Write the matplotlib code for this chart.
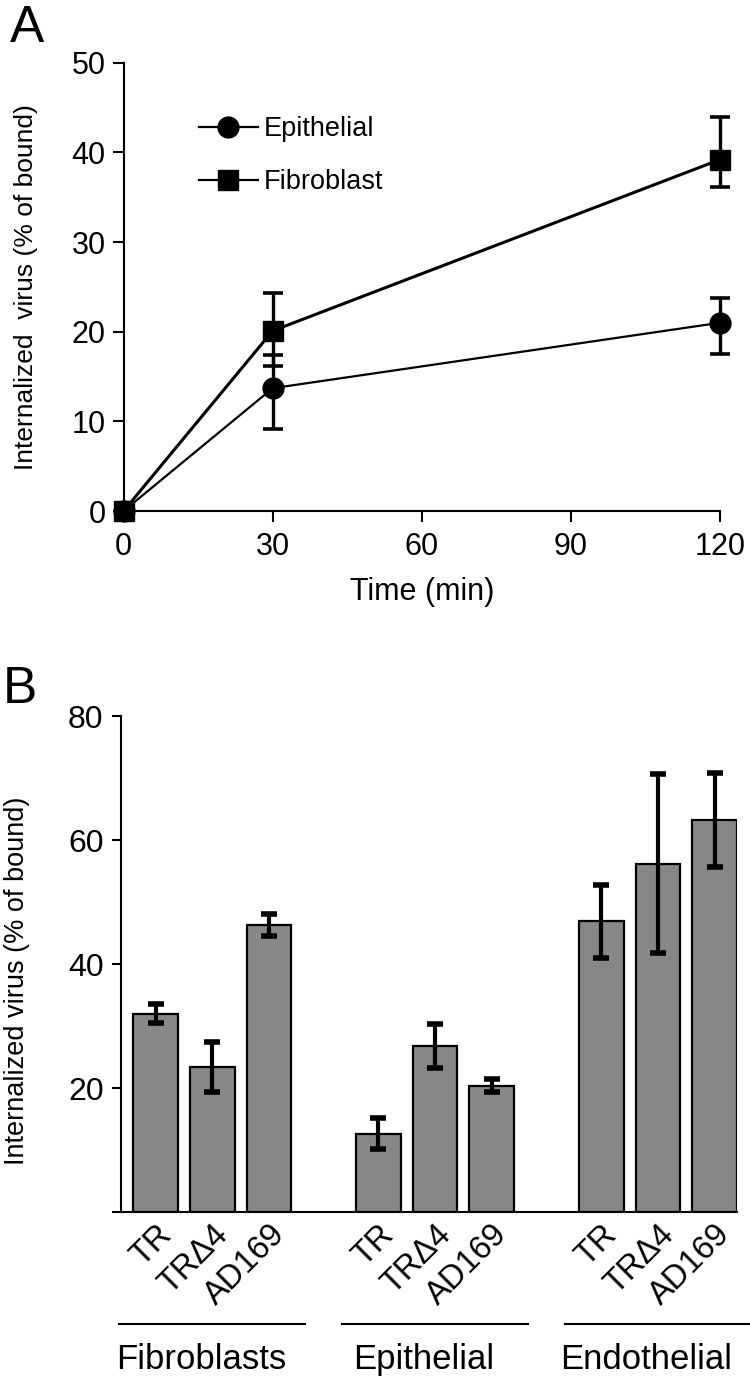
import matplotlib
matplotlib.use('Agg')
import matplotlib.pyplot as plt
from matplotlib.lines import Line2D

plt.rcParams['font.family'] = ['Liberation Sans', 'DejaVu Sans']

# panel A data
time_min = [0, 30, 120]
epi_val = [0, 13.7, 21.0]
epi_lo = [0, 4.6, 3.5]
epi_hi = [0, 3.7, 2.8]
fib_val = [0, 20.1, 39.2]
fib_lo = [0, 3.9, 3.1]
fib_hi = [0, 4.2, 4.7]

# panel B data
groups = ['Fibroblasts', 'Epithelial', 'Endothelial']
strains = ['TR', 'TR\u03944', 'AD169']
internal = [[32.0, 23.4, 46.3],
            [12.6, 26.8, 20.4],
            [46.9, 56.2, 63.2]]
internal_err = [[1.5, 4.0, 1.8],
                [2.5, 3.5, 1.0],
                [5.9, 14.5, 7.6]]

fig = plt.figure(figsize=(7.5, 13.88), dpi=100)

# ---- A ----
axA = fig.add_axes([0.1647, 0.6318, 0.7953, 0.3230])
axA.errorbar(time_min, fib_val, yerr=[fib_lo, fib_hi], color='black', lw=2.2,
             marker='s', ms=14, elinewidth=2.4, capsize=7, capthick=2.6,
             clip_on=False, zorder=3)
axA.errorbar(time_min, epi_val, yerr=[epi_lo, epi_hi], color='black', lw=1.6,
             marker='o', ms=15, elinewidth=2.4, capsize=7, capthick=2.6,
             clip_on=False, zorder=3)
axA.set_xlim(0, 120)
axA.set_ylim(0, 50)
axA.set_xticks([0, 30, 60, 90, 120])
axA.set_yticks([0, 10, 20, 30, 40, 50])
axA.spines['top'].set_visible(False)
axA.spines['right'].set_visible(False)
for s in ['left', 'bottom']:
    axA.spines[s].set_linewidth(1.5)
axA.tick_params(labelsize=22, width=1.5, length=8)
axA.tick_params(axis='x', pad=7)
axA.tick_params(axis='y', pad=5)
axA.set_xlabel('Time (min)', fontsize=22, labelpad=11)
axA.set_ylabel('Internalized  virus (% of bound)', fontsize=19)
axA.yaxis.set_label_coords(-0.144, 0.5)
leg_h = [Line2D([], [], color='black', lw=1.6, marker='o', ms=15),
         Line2D([], [], color='black', lw=1.6, marker='s', ms=14)]
axA.legend(leg_h, ['Epithelial', 'Fibroblast'], loc='upper left', bbox_to_anchor=(0.085, 0.935),
           frameon=False, fontsize=19.5, handlelength=2.2, labelspacing=1.0,
           handletextpad=0.2)
fig.text(0.013, 0.997, 'A', fontsize=37, va='top', ha='left')

# ---- B ----
axB = fig.add_axes([0.1613, 0.1268, 0.8214, 0.3573])
unit_gap = 3.93
xs = []
vals = []
errs = []
for g in range(len(groups)):
    for i in range(len(strains)):
        xs.append(g * unit_gap + i)
        vals.append(internal[g][i])
        errs.append(internal_err[g][i])
axB.bar(xs, vals, width=0.79, color='#878787', edgecolor='black', linewidth=1.6, zorder=2)
axB.errorbar(xs, vals, yerr=errs, fmt='none', ecolor='black', elinewidth=3,
             capsize=5.5, capthick=4, zorder=3)
axB.set_xlim(-0.61, xs[-1] + 0.395)
axB.set_ylim(0, 80)
axB.set_yticks([0, 20, 40, 60, 80])
axB.set_yticklabels(['', '20', '40', '60', '80'])
axB.set_xticks(xs)
axB.set_xticklabels(strains * len(groups), rotation=45, ha='right',
                    rotation_mode='anchor', fontsize=23.5)
axB.tick_params(axis='x', length=0, pad=5)
axB.tick_params(axis='y', labelsize=23, width=1.5, length=6.5, pad=6)
axB.spines['top'].set_visible(False)
axB.spines['right'].set_visible(False)
for s in ['left', 'bottom']:
    axB.spines[s].set_linewidth(1.5)
axB.set_ylabel('Internalized virus (% of bound)', fontsize=19.5)
axB.yaxis.set_label_coords(-0.148, 0.466)
trans = axB.get_xaxis_transform()
for g, name in enumerate(groups):
    c = g * unit_gap + 1
    axB.plot([c - 1.64, c + 1.64], [-0.226, -0.226], color='black', lw=1.5,
             transform=trans, clip_on=False)
    axB.text(c - 0.2, -0.298, name, transform=trans, ha='center', va='center', fontsize=25)
fig.text(0.004, 0.521, 'B', fontsize=37, va='top', ha='left')

fig.savefig('out.png', dpi=100)
